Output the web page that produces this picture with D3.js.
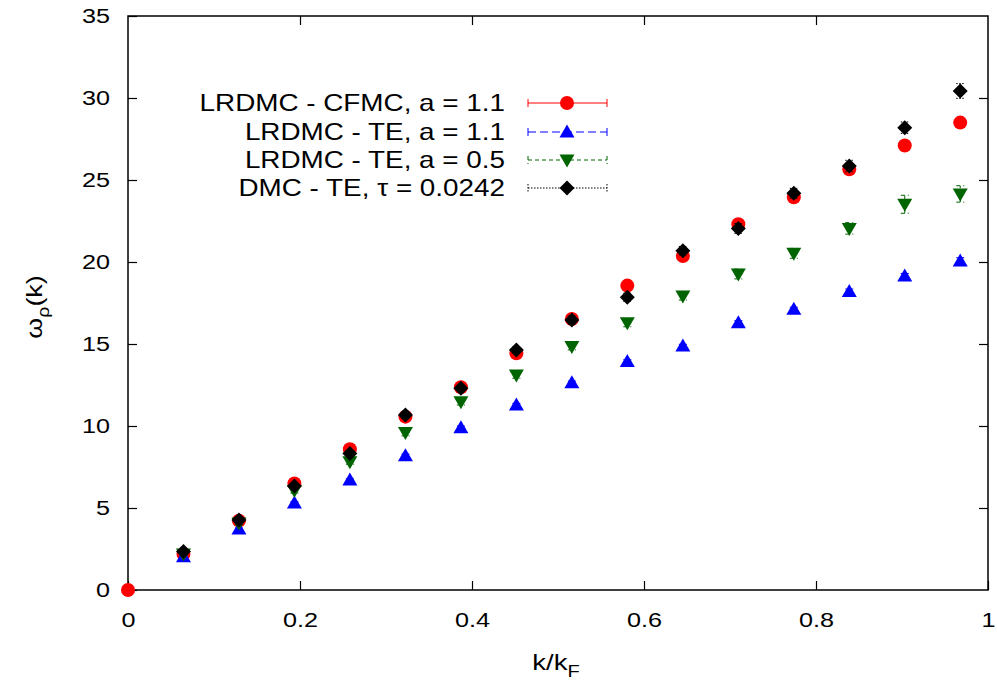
<!DOCTYPE html>
<html>
<head>
<meta charset="utf-8">
<script src="https://cdn.jsdelivr.net/npm/d3@7"></script>
<style>
  body { margin: 0; background: #fff; }
  text { font-family: "Liberation Sans", Arial, sans-serif; fill: #000; }
</style>
</head>
<body>
<div id="chart"></div>
<script>
// k/kF values
var kGrid = [0.0645, 0.129, 0.1935, 0.258, 0.3226, 0.3871, 0.4516, 0.5161,
             0.5806, 0.6452, 0.7097, 0.7742, 0.8387, 0.9032, 0.9677];

// LRDMC - CFMC, a = 1.1 (includes the origin)
var cfmcK   = [0].concat(kGrid);
var cfmcVal = [0, 2.2, 4.23, 6.5, 8.58, 10.57, 12.36, 14.43, 16.52, 18.56, 20.37, 22.3, 23.95, 25.65, 27.1, 28.5];
var cfmcErr = [0, 0.05, 0.05, 0.05, 0.05, 0.05, 0.05, 0.05, 0.05, 0.05, 0.05, 0.05, 0.05, 0.05, 0.05, 0.05];

// LRDMC - TE, a = 1.1
var te11Val = [2.03, 3.72, 5.3, 6.7, 8.19, 9.9, 11.28, 12.64, 13.94, 14.88, 16.3, 17.12, 18.2, 19.15, 20.06];
var te11Err = [0.05, 0.05, 0.08, 0.08, 0.1, 0.1, 0.1, 0.1, 0.1, 0.1, 0.12, 0.12, 0.15, 0.15, 0.2];

// LRDMC - TE, a = 0.5
var te05Val = [2.2, 4.08, 6.06, 7.82, 9.6, 11.48, 13.11, 14.84, 16.3, 17.93, 19.27, 20.53, 22.05, 23.52, 24.15];
var te05Err = [0.1, 0.1, 0.15, 0.15, 0.2, 0.2, 0.2, 0.2, 0.25, 0.25, 0.3, 0.3, 0.35, 0.55, 0.5];

// DMC - TE, tau = 0.0242
var dmcVal = [2.34, 4.27, 6.34, 8.33, 10.67, 12.3, 14.63, 16.46, 17.85, 20.69, 22.05, 24.19, 25.85, 28.19, 30.43];
var dmcErr = [0.1, 0.1, 0.15, 0.15, 0.2, 0.2, 0.2, 0.25, 0.25, 0.25, 0.3, 0.3, 0.35, 0.35, 0.45];

var xTicks = [0, 0.2, 0.4, 0.6, 0.8, 1];
var yTicks = [0, 5, 10, 15, 20, 25, 30, 35];

var seriesNames = ["LRDMC - CFMC, a = 1.1", "LRDMC - TE, a = 1.1", "LRDMC - TE, a = 0.5", "DMC - TE, \u03c4 = 0.0242"];

(function () {
    var width = 997, height = 681;
    var margin = {left: 128, right: 9, top: 16, bottom: 91};
    var stretchX = 1.2;   // the original font is rendered wider than Liberation

    var x = d3.scaleLinear().domain([0, 1]).range([margin.left, width - margin.right]);
    var y = d3.scaleLinear().domain([0, 35]).range([height - margin.bottom, margin.top]);

    var svg = d3.select("#chart").append("svg")
        .attr("width", width)
        .attr("height", height);

    // widen text horizontally around its anchor
    function stretch(sel, sx) {
        sel.each(function () {
            var t = d3.select(this);
            var tx = +t.attr("x") || 0, ty = +t.attr("y") || 0;
            t.attr("x", 0).attr("y", 0)
                .attr("transform", "translate(" + tx + "," + ty + ") scale(" + sx + ",1)");
        });
    }

    function zip(ks, vals, errs) {
        return ks.map(function (k, i) { return {k: k, v: vals[i], e: errs[i]}; });
    }

    // marker shapes, gnuplot style
    function shape(type) {
        if (type === "circle") return "M-7,0A7,7 0 1,0 7,0A7,7 0 1,0 -7,0Z";
        if (type === "up") return "M0,-7.5L7.5,5.5L-7.5,5.5Z";
        if (type === "down") return "M0,7.5L7.5,-5.5L-7.5,-5.5Z";
        return "M0,-7.5L7.5,0L0,7.5L-7.5,0Z";
    }

    var series = [
        {name: seriesNames[0], data: zip(cfmcK, cfmcVal, cfmcErr), color: "#ff0000", dash: null, shape: "circle"},
        {name: seriesNames[1], data: zip(kGrid, te11Val, te11Err), color: "#0000ff", dash: "8,4", shape: "up"},
        {name: seriesNames[2], data: zip(kGrid, te05Val, te05Err), color: "#006400", dash: "4,3", shape: "down"},
        {name: seriesNames[3], data: zip(kGrid, dmcVal, dmcErr), color: "#000000", dash: "1.5,1.5", shape: "diamond"}
    ];

    // frame
    svg.append("rect")
        .attr("x", x(0)).attr("y", y(35))
        .attr("width", x(1) - x(0)).attr("height", y(0) - y(35))
        .attr("fill", "none").attr("stroke", "#000").attr("stroke-width", 1.5);

    // ticks (inward, mirrored)
    var tl = 9;
    svg.append("g").attr("transform", "translate(0," + y(0) + ")")
        .call(d3.axisBottom(x).tickValues(xTicks).tickSizeInner(-tl).tickSizeOuter(0).tickPadding(22)
            .tickFormat(function (d) { return d === 0 || d === 1 ? d : d3.format(".1f")(d); }))
        .call(function (g) {
            g.select(".domain").remove();
            g.selectAll("text").attr("font-size", 21).attr("font-family", "Liberation Sans, Arial, sans-serif");
            stretch(g.selectAll("text"), stretchX);
        });
    svg.append("g").attr("transform", "translate(0," + y(35) + ")")
        .call(d3.axisTop(x).tickValues(xTicks.slice(1, -1)).tickSizeInner(-tl).tickSizeOuter(0).tickFormat(""))
        .call(function (g) { g.select(".domain").remove(); });
    svg.append("g").attr("transform", "translate(" + x(0) + ",0)")
        .call(d3.axisLeft(y).tickValues(yTicks).tickSizeInner(-tl).tickSizeOuter(0).tickPadding(9))
        .call(function (g) {
            g.select(".domain").remove();
            g.selectAll("text").attr("font-size", 21).attr("font-family", "Liberation Sans, Arial, sans-serif");
            g.selectAll("text").attr("x", -18);
            stretch(g.selectAll("text"), stretchX);
        });
    svg.append("g").attr("transform", "translate(" + x(1) + ",0)")
        .call(d3.axisRight(y).tickValues(yTicks.slice(1, -1)).tickSizeInner(-tl).tickSizeOuter(0).tickFormat(""))
        .call(function (g) { g.select(".domain").remove(); });
    svg.selectAll(".tick line").attr("stroke", "#000").attr("stroke-width", 1.2);

    // axis labels
    var xl = svg.append("text")
        .attr("x", 556).attr("y", 670)
        .attr("text-anchor", "middle").attr("font-size", 22);
    xl.append("tspan").text("k/k");
    xl.append("tspan").attr("font-size", 16).attr("dy", 7).text("F");
    stretch(xl, 1.25);

    var yl = svg.append("text")
        .attr("transform", "translate(42,307) rotate(-90) scale(1.22,1)")
        .attr("text-anchor", "middle").attr("font-size", 22);
    yl.append("tspan").text("\u03c9");
    yl.append("tspan").attr("font-size", 16).attr("dy", 7).text("\u03c1");
    yl.append("tspan").attr("dy", -7).text("(k)");

    // data
    var capW = 4;
    series.forEach(function (s) {
        var g = svg.append("g");
        var eb = g.selectAll(".eb").data(s.data.filter(function (d) { return d.e > 0; }))
            .enter().append("g")
            .attr("stroke", s.color).attr("stroke-width", 1)
            .attr("stroke-dasharray", s.dash);
        eb.append("line")
            .attr("x1", function (d) { return x(d.k); }).attr("x2", function (d) { return x(d.k); })
            .attr("y1", function (d) { return y(d.v - d.e); }).attr("y2", function (d) { return y(d.v + d.e); });
        eb.append("line")
            .attr("x1", function (d) { return x(d.k) - capW; }).attr("x2", function (d) { return x(d.k) + capW; })
            .attr("y1", function (d) { return y(d.v + d.e); }).attr("y2", function (d) { return y(d.v + d.e); });
        eb.append("line")
            .attr("x1", function (d) { return x(d.k) - capW; }).attr("x2", function (d) { return x(d.k) + capW; })
            .attr("y1", function (d) { return y(d.v - d.e); }).attr("y2", function (d) { return y(d.v - d.e); });

        g.selectAll(".pt").data(s.data).enter().append("path")
            .attr("d", shape(s.shape))
            .attr("transform", function (d) { return "translate(" + x(d.k) + "," + y(d.v) + ")"; })
            .attr("fill", s.color);
    });

    // legend
    var legY = [103, 132, 160, 188];
    var leg = svg.append("g");
    series.forEach(function (s, i) {
        var yy = legY[i];
        var t = leg.append("text")
            .attr("x", 505).attr("y", yy + 8)
            .attr("text-anchor", "end").attr("font-size", 24)
            .text(s.name);
        stretch(t, 1.16);
        var lg = leg.append("g").attr("stroke", s.color).attr("stroke-width", 1)
            .attr("stroke-dasharray", s.dash);
        lg.append("line").attr("x1", 528).attr("x2", 607).attr("y1", yy).attr("y2", yy);
        lg.append("line").attr("x1", 528).attr("x2", 528).attr("y1", yy - 4).attr("y2", yy + 4);
        lg.append("line").attr("x1", 607).attr("x2", 607).attr("y1", yy - 4).attr("y2", yy + 4);
        leg.append("path").attr("d", shape(s.shape))
            .attr("transform", "translate(567," + yy + ")")
            .attr("fill", s.color);
    });
})();
</script>
</body>
</html>
